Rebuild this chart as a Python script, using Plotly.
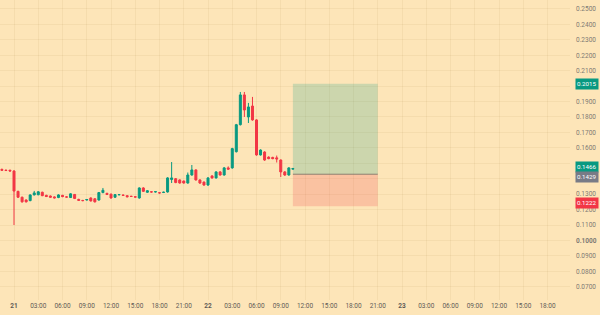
import plotly.graph_objects as go
import pandas as pd

# ---- data (30-minute candles) ----
start_time = "2024-05-20 22:30"
opens = [0.1460, 0.1455, 0.1455, 0.1450, 0.1318, 0.1280, 0.1262, 0.1258, 0.1295, 0.1296,
         0.1312, 0.1292, 0.1288, 0.1282, 0.1278, 0.1292, 0.1282, 0.1278, 0.1298, 0.1266,
         0.1259, 0.1262, 0.1275, 0.1270, 0.1262, 0.1310, 0.1305, 0.1300, 0.1280, 0.1296,
         0.1294, 0.1290, 0.1286, 0.1283, 0.1275, 0.1340, 0.1312, 0.1315, 0.1314, 0.1309,
         0.1311, 0.1314, 0.1395, 0.1400, 0.1392, 0.1385, 0.1372, 0.1424, 0.1457, 0.1392,
         0.1378, 0.1359, 0.1418, 0.1405, 0.1444, 0.1424, 0.1470, 0.1470, 0.1575, 0.1750,
         0.1943, 0.1800, 0.1871, 0.1781, 0.1554, 0.1573, 0.1540, 0.1538, 0.1535, 0.1521,
         0.1444, 0.1424, 0.1462]
closes = [0.1455, 0.1453, 0.1450, 0.1320, 0.1280, 0.1250, 0.1250, 0.1295, 0.1308, 0.1315,
          0.1290, 0.1285, 0.1280, 0.1276, 0.1295, 0.1284, 0.1281, 0.1302, 0.1272, 0.1260,
          0.1258, 0.1265, 0.1256, 0.1250, 0.1310, 0.1325, 0.1298, 0.1275, 0.1297, 0.1297,
          0.1292, 0.1283, 0.1285, 0.1281, 0.1340, 0.1318, 0.1322, 0.1314, 0.1316, 0.1308,
          0.1312, 0.1405, 0.1405, 0.1375, 0.1372, 0.1372, 0.1424, 0.1457, 0.1392, 0.1372,
          0.1359, 0.1405, 0.1405, 0.1444, 0.1424, 0.1470, 0.1462, 0.1595, 0.1750, 0.1943,
          0.1845, 0.1865, 0.1781, 0.1554, 0.1586, 0.1521, 0.1530, 0.1530, 0.1528, 0.1444,
          0.1424, 0.1470, 0.1466]
highs = [0.1466, 0.1460, 0.1458, 0.1455, 0.1322, 0.1284, 0.1266, 0.1298, 0.1321, 0.1320,
         0.1316, 0.1296, 0.1291, 0.1286, 0.1299, 0.1295, 0.1286, 0.1306, 0.1301, 0.1270,
         0.1263, 0.1268, 0.1279, 0.1273, 0.1314, 0.1340, 0.1309, 0.1303, 0.1300, 0.1300,
         0.1297, 0.1293, 0.1289, 0.1286, 0.1344, 0.1345, 0.1326, 0.1318, 0.1320, 0.1313,
         0.1316, 0.1410, 0.1508, 0.1404, 0.1396, 0.1388, 0.1440, 0.1489, 0.1460, 0.1396,
         0.1382, 0.1410, 0.1422, 0.1448, 0.1449, 0.1476, 0.1480, 0.1600, 0.1755, 0.1962,
         0.1962, 0.1891, 0.1930, 0.1785, 0.1590, 0.1578, 0.1545, 0.1542, 0.1550, 0.1525,
         0.1449, 0.1474, 0.1470]
lows = [0.1452, 0.1450, 0.1447, 0.1100, 0.1275, 0.1245, 0.1246, 0.1254, 0.1292, 0.1293,
        0.1287, 0.1281, 0.1277, 0.1272, 0.1274, 0.1280, 0.1278, 0.1275, 0.1268, 0.1257,
        0.1254, 0.1259, 0.1252, 0.1246, 0.1258, 0.1306, 0.1294, 0.1271, 0.1277, 0.1293,
        0.1289, 0.1279, 0.1282, 0.1278, 0.1271, 0.1314, 0.1308, 0.1310, 0.1311, 0.1304,
        0.1307, 0.1310, 0.1372, 0.1371, 0.1368, 0.1368, 0.1368, 0.1420, 0.1388, 0.1366,
        0.1354, 0.1354, 0.1400, 0.1401, 0.1420, 0.1420, 0.1458, 0.1465, 0.1570, 0.1745,
        0.1800, 0.1761, 0.1776, 0.1549, 0.1550, 0.1516, 0.1526, 0.1526, 0.1505, 0.1411,
        0.1418, 0.1420, 0.1460]

# position tool (long)
entry_price = 0.1429
target_price = 0.2015
stop_price = 0.1222
last_price = 0.1466
position_start = "2024-05-22 10:30"
position_end = "2024-05-22 21:00"

price_ticks = [0.25, 0.24, 0.23, 0.22, 0.21, 0.20, 0.19, 0.18, 0.17, 0.16, 0.15,
               0.14, 0.13, 0.12, 0.11, 0.10, 0.09, 0.08, 0.07]
# 0.2000 and 0.1500 are hidden behind price badges in the reference
price_tick_text = ["0.2500", "0.2400", "0.2300", "0.2200", "0.2100", "", "0.1900",
                   "0.1800", "0.1700", "0.1600", "", "0.1400", "0.1300", "0.1200",
                   "0.1100", "<b>0.1000</b>", "0.0900", "0.0800", "0.0700"]

time_ticks = ["2024-05-21 00:00", "2024-05-21 03:00", "2024-05-21 06:00", "2024-05-21 09:00",
              "2024-05-21 12:00", "2024-05-21 15:00", "2024-05-21 18:00", "2024-05-21 21:00",
              "2024-05-22 00:00", "2024-05-22 03:00", "2024-05-22 06:00", "2024-05-22 09:00",
              "2024-05-22 12:00", "2024-05-22 15:00", "2024-05-22 18:00", "2024-05-22 21:00",
              "2024-05-23 00:00", "2024-05-23 03:00", "2024-05-23 06:00", "2024-05-23 09:00",
              "2024-05-23 12:00", "2024-05-23 15:00", "2024-05-23 18:00"]
time_tick_text = ["<b>21</b>", "03:00", "06:00", "09:00", "12:00", "15:00", "18:00", "21:00",
                  "<b>22</b>", "03:00", "06:00", "09:00", "12:00", "15:00", "18:00", "21:00",
                  "<b>23</b>", "03:00", "06:00", "09:00", "12:00", "15:00", "18:00"]

times = pd.date_range(start_time, periods=len(opens), freq="30min")

GREEN = "#089981"
RED = "#F23645"
BG = "#FDE5B8"
GRID = "rgba(150,110,50,0.08)"
TXT = "#7d7a74"

fig = go.Figure()
fig.add_trace(go.Candlestick(
    x=times, open=opens, high=highs, low=lows, close=closes,
    increasing=dict(line=dict(color=GREEN, width=1), fillcolor=GREEN),
    decreasing=dict(line=dict(color=RED, width=1), fillcolor=RED),
    whiskerwidth=0, showlegend=False, hoverinfo="skip",
))

# position boxes
fig.add_shape(type="rect", xref="x", yref="y", x0=position_start, x1=position_end,
              y0=entry_price, y1=target_price, fillcolor="rgba(8,153,129,0.2)",
              line=dict(width=0), layer="between")
fig.add_shape(type="rect", xref="x", yref="y", x0=position_start, x1=position_end,
              y0=stop_price, y1=entry_price, fillcolor="rgba(242,54,69,0.2)",
              line=dict(width=0), layer="between")
fig.add_shape(type="line", xref="x", yref="y", x0=position_start, x1=position_end,
              y0=entry_price, y1=entry_price, line=dict(color="rgba(120,110,100,0.8)", width=1),
              layer="between")

# price badges (pixel nudges keep adjacent badges from colliding)
badges = [(target_price, "0.2015", GREEN, 0), (last_price, "0.1466", GREEN, 2.0),
          (entry_price, "0.1429", "#787B86", -3.0), (stop_price, "0.1222", RED, 3.5)]
for val, txt, col, dy in badges:
    fig.add_annotation(xref="paper", yref="y", x=1, y=val, xanchor="left", yanchor="middle",
                       xshift=5, yshift=dy, text=txt, showarrow=False,
                       font=dict(size=6.2, color="white", family="Roboto"),
                       bgcolor=col, borderpad=1)

fig.update_layout(
    width=600, height=315,
    margin=dict(l=0, r=30, t=0, b=15),
    paper_bgcolor=BG, plot_bgcolor=BG,
    font=dict(family="Roboto", size=7, color=TXT),
    showlegend=False,
    xaxis=dict(
        type="date", range=["2024-05-20 22:16", "2024-05-23 20:47"],
        rangeslider=dict(visible=False),
        tickvals=time_ticks, ticktext=time_tick_text,
        showgrid=True, gridcolor=GRID, gridwidth=1,
        zeroline=False, showline=False, ticks="",
        tickfont=dict(size=6.5, color="#5f5c57"),
    ),
    yaxis=dict(
        side="right", range=[0.0614, 0.2558],
        tickvals=price_ticks, ticktext=price_tick_text,
        showgrid=True, gridcolor=GRID, gridwidth=1,
        zeroline=False, showline=False, ticks="",
        tickfont=dict(size=6.5, color=TXT), ticklabelstandoff=5,
    ),
)

fig.write_html("out.html")
